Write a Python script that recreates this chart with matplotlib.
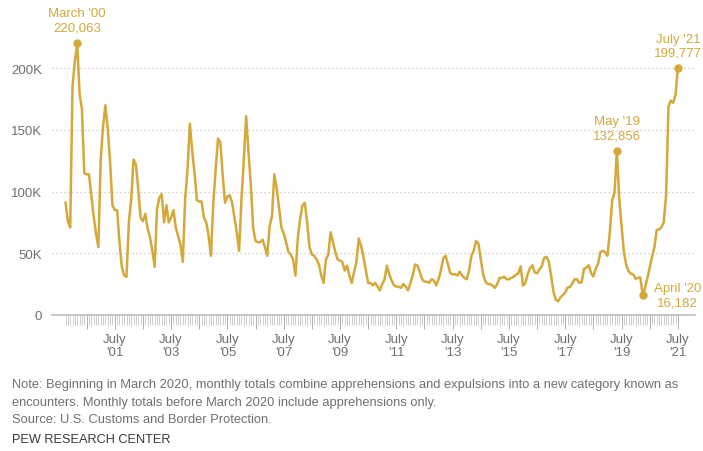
import matplotlib.pyplot as plt
import numpy as np
import pandas as pd

# monthly Border Patrol apprehensions / encounters (thousands)
# each list is one fiscal year, October through September
fy2000 = [91, 76, 71, 186, 206, 220.063, 179, 167, 115, 114, 114, 97]
fy2001 = [80, 66, 55, 126, 153, 170, 151, 124, 89, 85, 85, 59]
fy2002 = [39, 32, 31, 75, 94, 126, 122, 102, 79, 76, 82, 70]
fy2003 = [63, 52, 39, 86, 95, 98, 75, 89, 75, 79, 85, 71]
fy2004 = [64, 57, 43, 94, 118, 155, 133, 115, 93, 92, 92, 79]
fy2005 = [75, 64, 48, 91, 118, 143, 140, 113, 91, 96, 97, 91]
fy2006 = [79, 67, 52, 94, 126, 161, 132, 105, 70, 60, 59, 59]
fy2007 = [61, 55, 48, 72, 80, 114, 103, 87, 71, 66, 59, 51]
fy2008 = [49, 45, 32, 62, 78, 89, 91, 75, 55, 49, 48, 45]
fy2009 = [41, 32, 26, 45, 49, 67, 59, 51, 45, 44, 43, 36]
fy2010 = [40, 32, 26, 35, 43, 62, 56, 47, 36, 26, 26, 24]
fy2011 = [26, 23, 20, 25, 29, 40, 33, 28, 24, 23, 23, 22]
fy2012 = [25, 23, 20, 26, 32, 41, 40, 35, 29, 27, 27, 26]
fy2013 = [29, 28, 24, 29, 36, 46, 48, 41, 34, 33, 33, 32]
fy2014 = [35, 32, 30, 29, 36, 48, 52, 60, 58, 45, 33, 27]
fy2015 = [25, 25, 24, 22, 25, 30, 30, 31, 29, 29, 30, 31]
fy2016 = [32.7, 33.8, 39.5, 23.8, 26, 33.3, 38.1, 40.3, 34.5, 33.7, 37, 39.5]
fy2017 = [46.2, 47.2, 43.3, 31.6, 18.8, 12.2, 11.1, 14.5, 16.1, 18.2, 22.3, 22.6]
fy2018 = [25.5, 29.1, 29.0, 26.0, 26.7, 37.4, 38.3, 40.3, 34.1, 31.3, 37.5, 41.5]
fy2019 = [51, 52, 51, 48, 67, 93, 99, 132.856, 95, 72, 51, 40.5]
fy2020 = [35.4, 33.5, 32.9, 29.2, 30.1, 30.4, 16.182, 21.6, 30, 38.3, 47.3, 54.8]
fy2021 = [69, 69.3, 71.1, 75.3, 97.6, 169, 173.7, 172, 178.4, 199.777]

label_names = ["March '00", "May '19", "April '20", "July '21"]
label_months = ["2000-03", "2019-05", "2020-04", "2021-07"]

note_lines = [
    "Note: Beginning in March 2020, monthly totals combine apprehensions and expulsions into a new category known as",
    "encounters. Monthly totals before March 2020 include apprehensions only.",
    "Source: U.S. Customs and Border Protection.",
]

gold = "#d5a83a"
grey = "#707070"

plt.rcParams["font.family"] = ["Liberation Sans", "DejaVu Sans"]

months = pd.period_range("1999-10", "2021-07", freq="M")
counts = np.array(fy2000 + fy2001 + fy2002 + fy2003 + fy2004 + fy2005 + fy2006
                  + fy2007 + fy2008 + fy2009 + fy2010 + fy2011 + fy2012 + fy2013
                  + fy2014 + fy2015 + fy2016 + fy2017 + fy2018 + fy2019 + fy2020
                  + fy2021) * 1000
x = np.arange(len(months))

fig = plt.figure(figsize=(7.03, 4.52), dpi=100)
ax = fig.add_axes([0.074, 0.3009, 0.9146, 0.6279])

for v in [50000, 100000, 150000, 200000]:
    ax.axhline(v, color="#c4c4c4", lw=0.9, ls=(0, (1, 2.2)), zorder=0)
ax.axhline(0, color="#bdbdbd", lw=1.2, zorder=1, clip_on=False)

ax.plot(x, counts, color=gold, lw=1.8, zorder=3, solid_joinstyle="round")

ax.set_xlim(-5.75, 268.3)
ax.set_ylim(0, 230000)
for s in ax.spines.values():
    s.set_visible(False)

ax.set_yticks([0, 50000, 100000, 150000, 200000])
ax.set_yticklabels(["0", "50K", "100K", "150K", "200K"])
ax.tick_params(axis="y", length=0, pad=7, labelsize=9.5, labelcolor=grey)

july = [i for i, m in enumerate(months) if m.month == 7]
ax.set_xticks(july)
ax.set_xticklabels([f"July\n'{months[i].year % 100:02d}" if months[i].year % 2 == 1 else ""
                    for i in july], linespacing=1.1)
ax.set_xticks(x, minor=True)
ax.tick_params(axis="x", which="major", length=10, width=0.7, color="#b0b0b0",
               pad=3, labelsize=9.5, labelcolor=grey)
ax.tick_params(axis="x", which="minor", length=7, width=0.5, color="#bcbcbc")

for name, m in zip(label_names, label_months):
    i = months.get_loc(pd.Period(m, "M"))
    y = counts[i]
    ax.plot(i, y, "o", ms=5, color=gold, zorder=4, clip_on=False)
    if name.startswith("April"):
        off, va = (25, 0), "center"
    else:
        off, va = (0, 7), "bottom"
    ax.annotate(f"{name}\n{y:,.0f}", (i, y), xytext=off, textcoords="offset points",
                ha="center", va=va, color=gold, fontsize=9.5, linespacing=1.25)

for line, yy in zip(note_lines, [385, 403, 420]):
    fig.text(12 / 703, 1 - yy / 452, line, ha="left", va="center", fontsize=9.3, color=grey)
fig.text(12 / 703, 1 - 440 / 452, "PEW RESEARCH CENTER", ha="left", va="center",
         fontsize=9.2, color="#3a3a3a")

fig.savefig("out.png", dpi=100)
